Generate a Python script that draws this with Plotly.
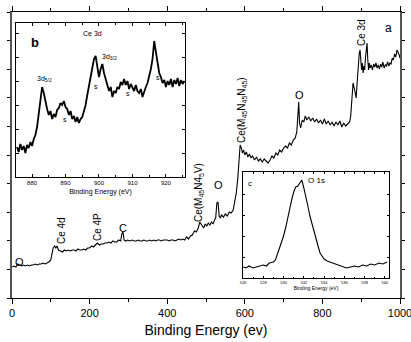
import plotly.graph_objects as go

# ---------------- data ----------------
main_ev = [0, 5, 10, 15, 20, 25, 30, 35, 40, 45, 50, 55, 60, 65, 70, 75, 80, 85, 90, 95,
           100, 103, 106, 110, 113, 116, 120, 125, 130, 135, 140, 145, 150, 155, 160, 165,
           170, 175, 180, 185, 190, 195, 200, 205, 210, 215, 220, 225, 230, 235, 240, 245,
           250, 255, 260, 265, 270, 275, 280, 283, 286, 289, 293, 298, 303, 310, 315, 320,
           325, 330, 335, 340, 345, 350, 355, 360, 365, 370, 375, 380, 385, 390, 395, 400,
           405, 410, 415, 420, 425, 430, 435, 440, 445, 450, 455, 460, 465, 470, 475, 480,
           484, 487, 490, 494, 498, 502, 506, 510, 514, 518, 522, 525, 528, 531, 534, 537,
           540, 545, 550, 555, 560, 565, 570, 574, 578, 582, 585, 588, 591, 594, 597, 600,
           604, 608, 612, 616, 620, 625, 630, 635, 640, 645, 650, 655, 660, 665, 670, 675,
           680, 685, 690, 695, 700, 705, 710, 715, 720, 725, 730, 734, 737, 739, 741, 744,
           748, 752, 756, 760, 765, 770, 775, 780, 785, 790, 795, 800, 805, 810, 815, 820,
           825, 830, 835, 840, 845, 850, 855, 860, 865, 870, 873, 876, 879, 882, 885, 887,
           889, 892, 895, 897, 899, 901, 903, 905, 907, 909, 911, 913, 915, 917, 919, 921,
           923, 926, 929, 932, 935, 938, 941, 944, 947, 950, 953, 956, 959, 962, 965, 968,
           971, 974, 977, 980, 983, 986, 989, 992, 995, 998, 1000]
main_int = [31, 32, 31, 34, 33, 32, 33, 32, 33, 32, 33, 33, 34, 33, 34, 34, 35, 34, 35, 36,
            38, 45, 50, 52, 50, 52, 48, 47, 46, 48, 47, 48, 47, 48, 48, 47,
            49, 48, 48, 49, 48, 50, 50, 52, 51, 53, 55, 53, 54, 54, 55, 55,
            56, 55, 57, 56, 56, 58, 57, 64, 66, 58, 57, 58, 57, 58, 57, 57,
            58, 57, 57, 58, 57, 57, 58, 57, 58, 57, 58, 58, 57, 58, 58, 58,
            57, 58, 58, 57, 58, 59, 58, 59, 58, 61, 59, 62, 63, 67, 66, 70,
            76, 74, 72, 70, 74, 72, 75, 73, 76, 74, 78, 80, 95, 96, 82, 80,
            83, 81, 84, 82, 86, 85, 88, 95, 105, 120, 140, 153, 150, 145, 148, 143,
            146, 141, 144, 140, 142, 138, 141, 137, 139, 136, 139, 137, 135, 138, 142, 140,
            145, 143, 148, 146, 150, 152, 150, 155, 153, 158, 160, 166, 190, 196, 175, 170,
            178, 176, 182, 178, 181, 177, 180, 176, 179, 175, 178, 174, 179, 174, 177, 173,
            176, 172, 176, 173, 177, 171, 175, 172, 174, 176, 182, 198, 215, 210, 205, 200,
            212, 230, 245, 248, 238, 228, 235, 225, 232, 228, 240, 252, 255, 238, 228, 235,
            230, 233, 228, 234, 231, 235, 230, 233, 229, 234, 231, 236, 230, 233, 232, 236,
            232, 235, 234, 240, 238, 244, 241, 248, 246, 243, 240]

ce3d_ev = [875.5, 876, 876.5, 877, 877.5, 878, 878.5, 879, 879.5, 880, 880.5, 881, 881.5,
           882, 882.5, 883, 883.5, 884, 884.5, 885, 885.5, 886, 886.5, 887, 887.5, 888,
           888.5, 889, 889.5, 890, 890.5, 891, 891.5, 892, 892.5, 893, 893.5, 894, 894.5,
           895, 895.5, 896, 896.5, 897, 897.5, 898, 898.5, 899, 899.5, 900, 900.5, 901,
           901.5, 902, 902.5, 903, 903.5, 904, 904.5, 905, 905.5, 906, 906.5, 907, 907.5,
           908, 908.5, 909, 909.5, 910, 910.5, 911, 911.5, 912, 912.5, 913, 913.5, 914,
           914.5, 915, 915.5, 916, 916.5, 917, 917.5, 918, 918.5, 919, 919.5, 920, 920.5,
           921, 921.5, 922, 922.5, 923, 923.5, 924, 924.5, 925, 925.5]
ce3d_int = [30, 25, 33, 27, 31, 24, 32, 29, 35, 31, 38, 42, 50,
            63, 80, 90, 84, 74, 68, 62, 66, 58, 63, 60, 67, 69,
            74, 72, 76, 70, 68, 62, 66, 58, 61, 55, 60, 54, 58,
            60, 65, 72, 82, 92, 102, 110, 118, 121, 108, 100, 108, 113,
            104, 98, 92, 86, 90, 80, 86, 84, 90, 88, 95, 92, 98,
            92, 96, 88, 93, 90, 86, 92, 86, 84, 88, 80, 86, 90,
            94, 100, 108, 118, 136, 125, 112, 104, 100, 94, 97, 90, 96,
            92, 98, 90, 97, 93, 99, 91, 97, 93, 96]

o1s_ev = [526, 526.3, 526.6, 527, 527.3, 527.6, 528, 528.3, 528.6, 529, 529.2, 529.4,
          529.6, 529.8, 530, 530.2, 530.4, 530.6, 530.8, 531, 531.2, 531.4, 531.6, 531.8,
          532, 532.2, 532.4, 532.6, 532.8, 533, 533.2, 533.4, 533.6, 533.8, 534, 534.3,
          534.6, 535, 535.4, 535.8, 536.2, 536.6, 537, 537.4, 537.8, 538.2, 538.6, 539,
          539.4, 539.8, 540.2]
o1s_int = [11, 10, 12, 10, 11, 12, 13, 12, 15, 16, 18, 24,
           30, 35, 42, 50, 60, 70, 78, 86, 91, 92, 95, 98,
           90, 82, 72, 62, 54, 46, 38, 32, 25, 22, 19, 17,
           16, 14, 13, 12, 10, 11, 12, 11, 13, 12, 14, 13,
           15, 14, 16]

main_ticks = [0, 200, 400, 600, 800, 1000]
b_ticks = [880, 890, 900, 910, 920]
c_ticks = [526, 528, 530, 532, 534, 536, 538, 540]

# ---------------- layout helpers ----------------
W, H = 411, 342
L, T, PW, PH = 12, 12, 388, 286
FONT = "Liberation Sans, Arial, sans-serif"


def px(x, y):
    return (x - L) / PW, (T + PH - y) / PH


def ax(**kw):
    d = dict(showgrid=False, zeroline=False, showline=True, linecolor="black",
             mirror="ticks", tickcolor="black", automargin=False)
    d.update(kw)
    return d


fig = go.Figure()
line = dict(color="black", width=1.1)
fig.add_trace(go.Scatter(x=main_ev, y=main_int, mode="lines", line=line,
                         xaxis="x", yaxis="y", showlegend=False))
fig.add_trace(go.Scatter(x=ce3d_ev, y=ce3d_int, mode="lines",
                         line=dict(color="black", width=1.8),
                         xaxis="x2", yaxis="y2", showlegend=False))
fig.add_trace(go.Scatter(x=o1s_ev, y=o1s_int, mode="lines", line=line,
                         xaxis="x3", yaxis="y3", showlegend=False))

bx0, by0 = px(16, 177)
bx1, by1 = px(185, 23)
cx0, cy0 = px(243, 278)
cx1, cy1 = px(389, 172)

fig.update_layout(
    width=W, height=H,
    margin=dict(l=L, r=W - L - PW, t=T, b=H - T - PH),
    paper_bgcolor="white", plot_bgcolor="white",
    font=dict(family=FONT, color="black"),
    xaxis=ax(domain=[0, 1], range=[0, 1000], tickvals=main_ticks,
             ticks="outside", ticklen=5, tickwidth=1, linewidth=1.3,
             tickfont=dict(size=11), ticklabeloverflow="allow",
             minor=dict(dtick=100, ticks="outside", ticklen=3, tickcolor="black"),
             title=dict(text="Binding Energy (ev)", font=dict(size=14), standoff=6)),
    yaxis=ax(domain=[0, 1], range=[0, 286], dtick=28.6,
             showticklabels=False, ticks="outside", ticklen=3, linewidth=1.6,
             linecolor="#555"),
    xaxis2=ax(domain=[bx0, bx1], anchor="y2", range=[875.2, 925.7],
              tickvals=b_ticks, ticks="inside", ticklen=3, linewidth=1,
              tickfont=dict(size=6),
              minor=dict(dtick=5, ticks="inside", ticklen=2, tickcolor="black"),
              title=dict(text="Binding Energy (eV)", font=dict(size=7), standoff=3)),
    yaxis2=ax(domain=[by0, by1], anchor="x2", range=[0, 154],
              dtick=24, showticklabels=False, ticks="inside", ticklen=3, linewidth=1),
    xaxis3=ax(domain=[cx0, cx1], anchor="y3", range=[526, 540.4],
              tickvals=c_ticks, ticks="inside", ticklen=2, linewidth=1,
              tickfont=dict(size=4),
              minor=dict(dtick=1, ticks="inside", ticklen=1.5, tickcolor="black"),
              title=dict(text="Binding Energy (eV)", font=dict(size=5), standoff=1)),
    yaxis3=ax(domain=[cy0, cy1], anchor="x3", range=[0, 106],
              dtick=21, showticklabels=False, ticks="inside", ticklen=2, linewidth=1),
)

labels = [
    ("O", 19, 262, 11, 0),
    ("Ce 4d", 61, 231, 10, -90),
    ("Ce 4P", 97, 227, 10, -90),
    ("C", 123, 228, 11, 0),
    ("Ce(M<sub>45</sub>N4<sub>5</sub>V)", 199, 193, 10, -90),
    ("O", 218, 185, 11, 0),
    ("Ce(M<sub>45</sub>N<sub>45</sub>N<sub>45</sub>)", 242, 110, 10, -90),
    ("O", 299, 95, 11, 0),
    ("Ce 3d", 361, 33, 10, -90),
    ("a", 388, 28, 12, 0),
    ("<b>b</b>", 35, 42, 13, 0),
    ("Ce 3d", 92, 33, 7, 0),
    ("3d<sub>5/2</sub>", 44, 79, 7, 0),
    ("3d<sub>3/2</sub>", 109, 57, 7, 0),
    ("s", 65, 119, 7, 0),
    ("s", 96, 86, 7, 0),
    ("s", 128, 94, 7, 0),
    ("s", 158, 77, 7, 0),
    ("c", 250, 183, 8, 0),
    ("O 1s", 316, 180, 8, 0),
]
for text, x, y, size, ang in labels:
    xp, yp = px(x, y)
    fig.add_annotation(text=text, x=xp, y=yp, xref="paper", yref="paper",
                       showarrow=False, textangle=ang, xanchor="center",
                       yanchor="middle", font=dict(size=size, family=FONT, color="black"))

fig.write_html("out.html", config={"displayModeBar": False},
               post_script="document.body.style.margin='0';document.body.style.overflow='hidden';")
